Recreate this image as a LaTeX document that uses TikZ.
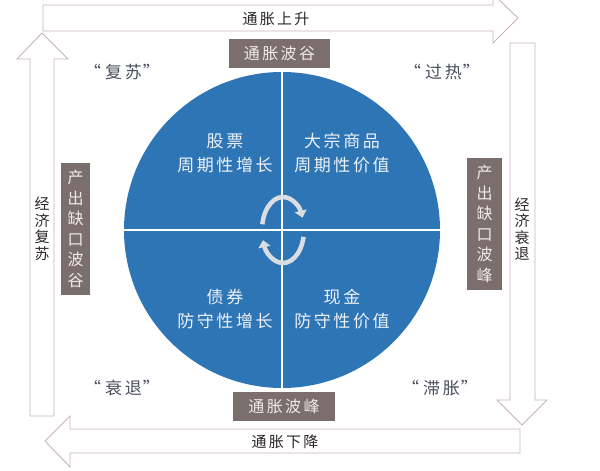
\documentclass[tikz,border=0pt]{standalone}
\usepackage{fontspec}
\usetikzlibrary{arrows.meta}
\newfontfamily\cjk{Noto Sans CJK SC}
\newfontfamily\cjkwide[LetterSpace=15]{Noto Sans CJK SC}
\definecolor{cycleblue}{HTML}{2E75B6}
\definecolor{boxgray}{HTML}{7B6F6D}
\definecolor{boxtext}{HTML}{EEEAEA}
\definecolor{arrowedge}{HTML}{C9B3B6}
\definecolor{labeltext}{HTML}{2E2626}
\definecolor{phasetext}{HTML}{4A4F5E}
\definecolor{quadtext}{HTML}{EDF2F9}
\definecolor{turngray}{HTML}{DADDE2}
\tikzset{
  blockarrow/.style={draw=arrowedge, fill=white, line width=0.9pt, line join=miter},
  markerbox/.style={fill=boxgray, text=boxtext, inner sep=0pt, align=center},
  flowlabel/.style={text=labeltext, inner sep=0pt, align=center},
  phaselabel/.style={text=phasetext, inner sep=0pt, font=\cjkwide\fontsize{17}{20}\selectfont},
  quadlabel/.style={text=quadtext, inner sep=0pt, align=center, font=\cjkwide\fontsize{17}{24}\selectfont},
  turnarrow/.style={draw=turngray, line width=4.5pt, -{Triangle[width=12pt,length=7pt]}},
}

\begin{document}
\begin{tikzpicture}[x=1pt, y=-1pt]
\useasboundingbox (0,0) rectangle (600,471);
% block arrows round the edge
\draw[blockarrow] (43,5) -- (493,5) -- (493,-6) -- (518,18) -- (493,43) -- (493,31) -- (43,31) -- cycle;
\draw[blockarrow] (30,416) -- (30,59) -- (17,59) -- (42,33) -- (68,59) -- (54,59) -- (54,416) -- cycle;
\draw[blockarrow] (510,43) -- (535,43) -- (535,400) -- (547,400) -- (522,425) -- (497,400) -- (510,400) -- cycle;
\draw[blockarrow] (520,429) -- (70,429) -- (70,416) -- (45,441) -- (70,467) -- (70,453) -- (520,453) -- cycle;
\node[flowlabel, font=\cjkwide\fontsize{15}{17}\selectfont] (up) at (276,19) {通胀上升};
\node[flowlabel, font=\cjkwide\fontsize{15}{17}\selectfont] (down) at (285,442) {通胀下降};
\node[flowlabel, font=\cjk\fontsize{15}{16.5}\selectfont] (recover) at (42,229) {经\\济\\复\\苏};
\node[flowlabel, font=\cjk\fontsize{15}{16.5}\selectfont] (decline) at (522,229) {经\\济\\衰\\退};

% the clock
\node[circle, fill=cycleblue, minimum size=316pt, inner sep=0pt] (clock) at (282,230) {};
\draw[white, line width=1.5pt] (clock.north) -- (clock.south);
\draw[white, line width=1.5pt] (clock.west) -- (clock.east);
\node[quadlabel] (stock) at (225,153) {股票\\周期性增长};
\node[quadlabel] (goods) at (342,153) {大宗商品\\周期性价值};
\node[quadlabel] (bond) at (225,309) {债券\\防守性增长};
\node[quadlabel] (cash) at (342,309) {现金\\防守性价值};

% turning arrows
\coordinate (turn) at (283,230);
\draw[turnarrow] (turn) ++(190:21 and 33) arc[start angle=190, end angle=338, x radius=21, y radius=33];
\draw[turnarrow] (turn) ++(12:21 and 33) arc[start angle=12, end angle=162, x radius=21, y radius=33];

% markers
\node[markerbox, minimum width=101pt, minimum height=29pt, font=\cjkwide\fontsize{16}{20}\selectfont] (trough) at (279.5,53.5) {通胀波谷};
\node[markerbox, minimum width=102pt, minimum height=29pt, font=\cjkwide\fontsize{16}{20}\selectfont] (peak) at (284,406.5) {通胀波峰};
\node[markerbox, minimum width=29pt, minimum height=132pt, font=\cjk\fontsize{16}{20.5}\selectfont] (gaplow) at (75.5,229) {产\\出\\缺\\口\\波\\谷};
\node[markerbox, minimum width=35pt, minimum height=132pt, font=\cjk\fontsize{16}{20.5}\selectfont] (gaphigh) at (484.5,224) {产\\出\\缺\\口\\波\\峰};

% phases
\node[phaselabel] (revival) at (122,72) {“\kern4pt 复苏\kern1pt”};
\node[phaselabel] (boom) at (442,72) {“\kern4pt 过热\kern1pt”};
\node[phaselabel] (slump) at (122,388) {“\kern4pt 衰退\kern1pt”};
\node[phaselabel] (stag) at (440,388) {“\kern4pt 滞胀\kern1pt”};
\end{tikzpicture}
\end{document}
